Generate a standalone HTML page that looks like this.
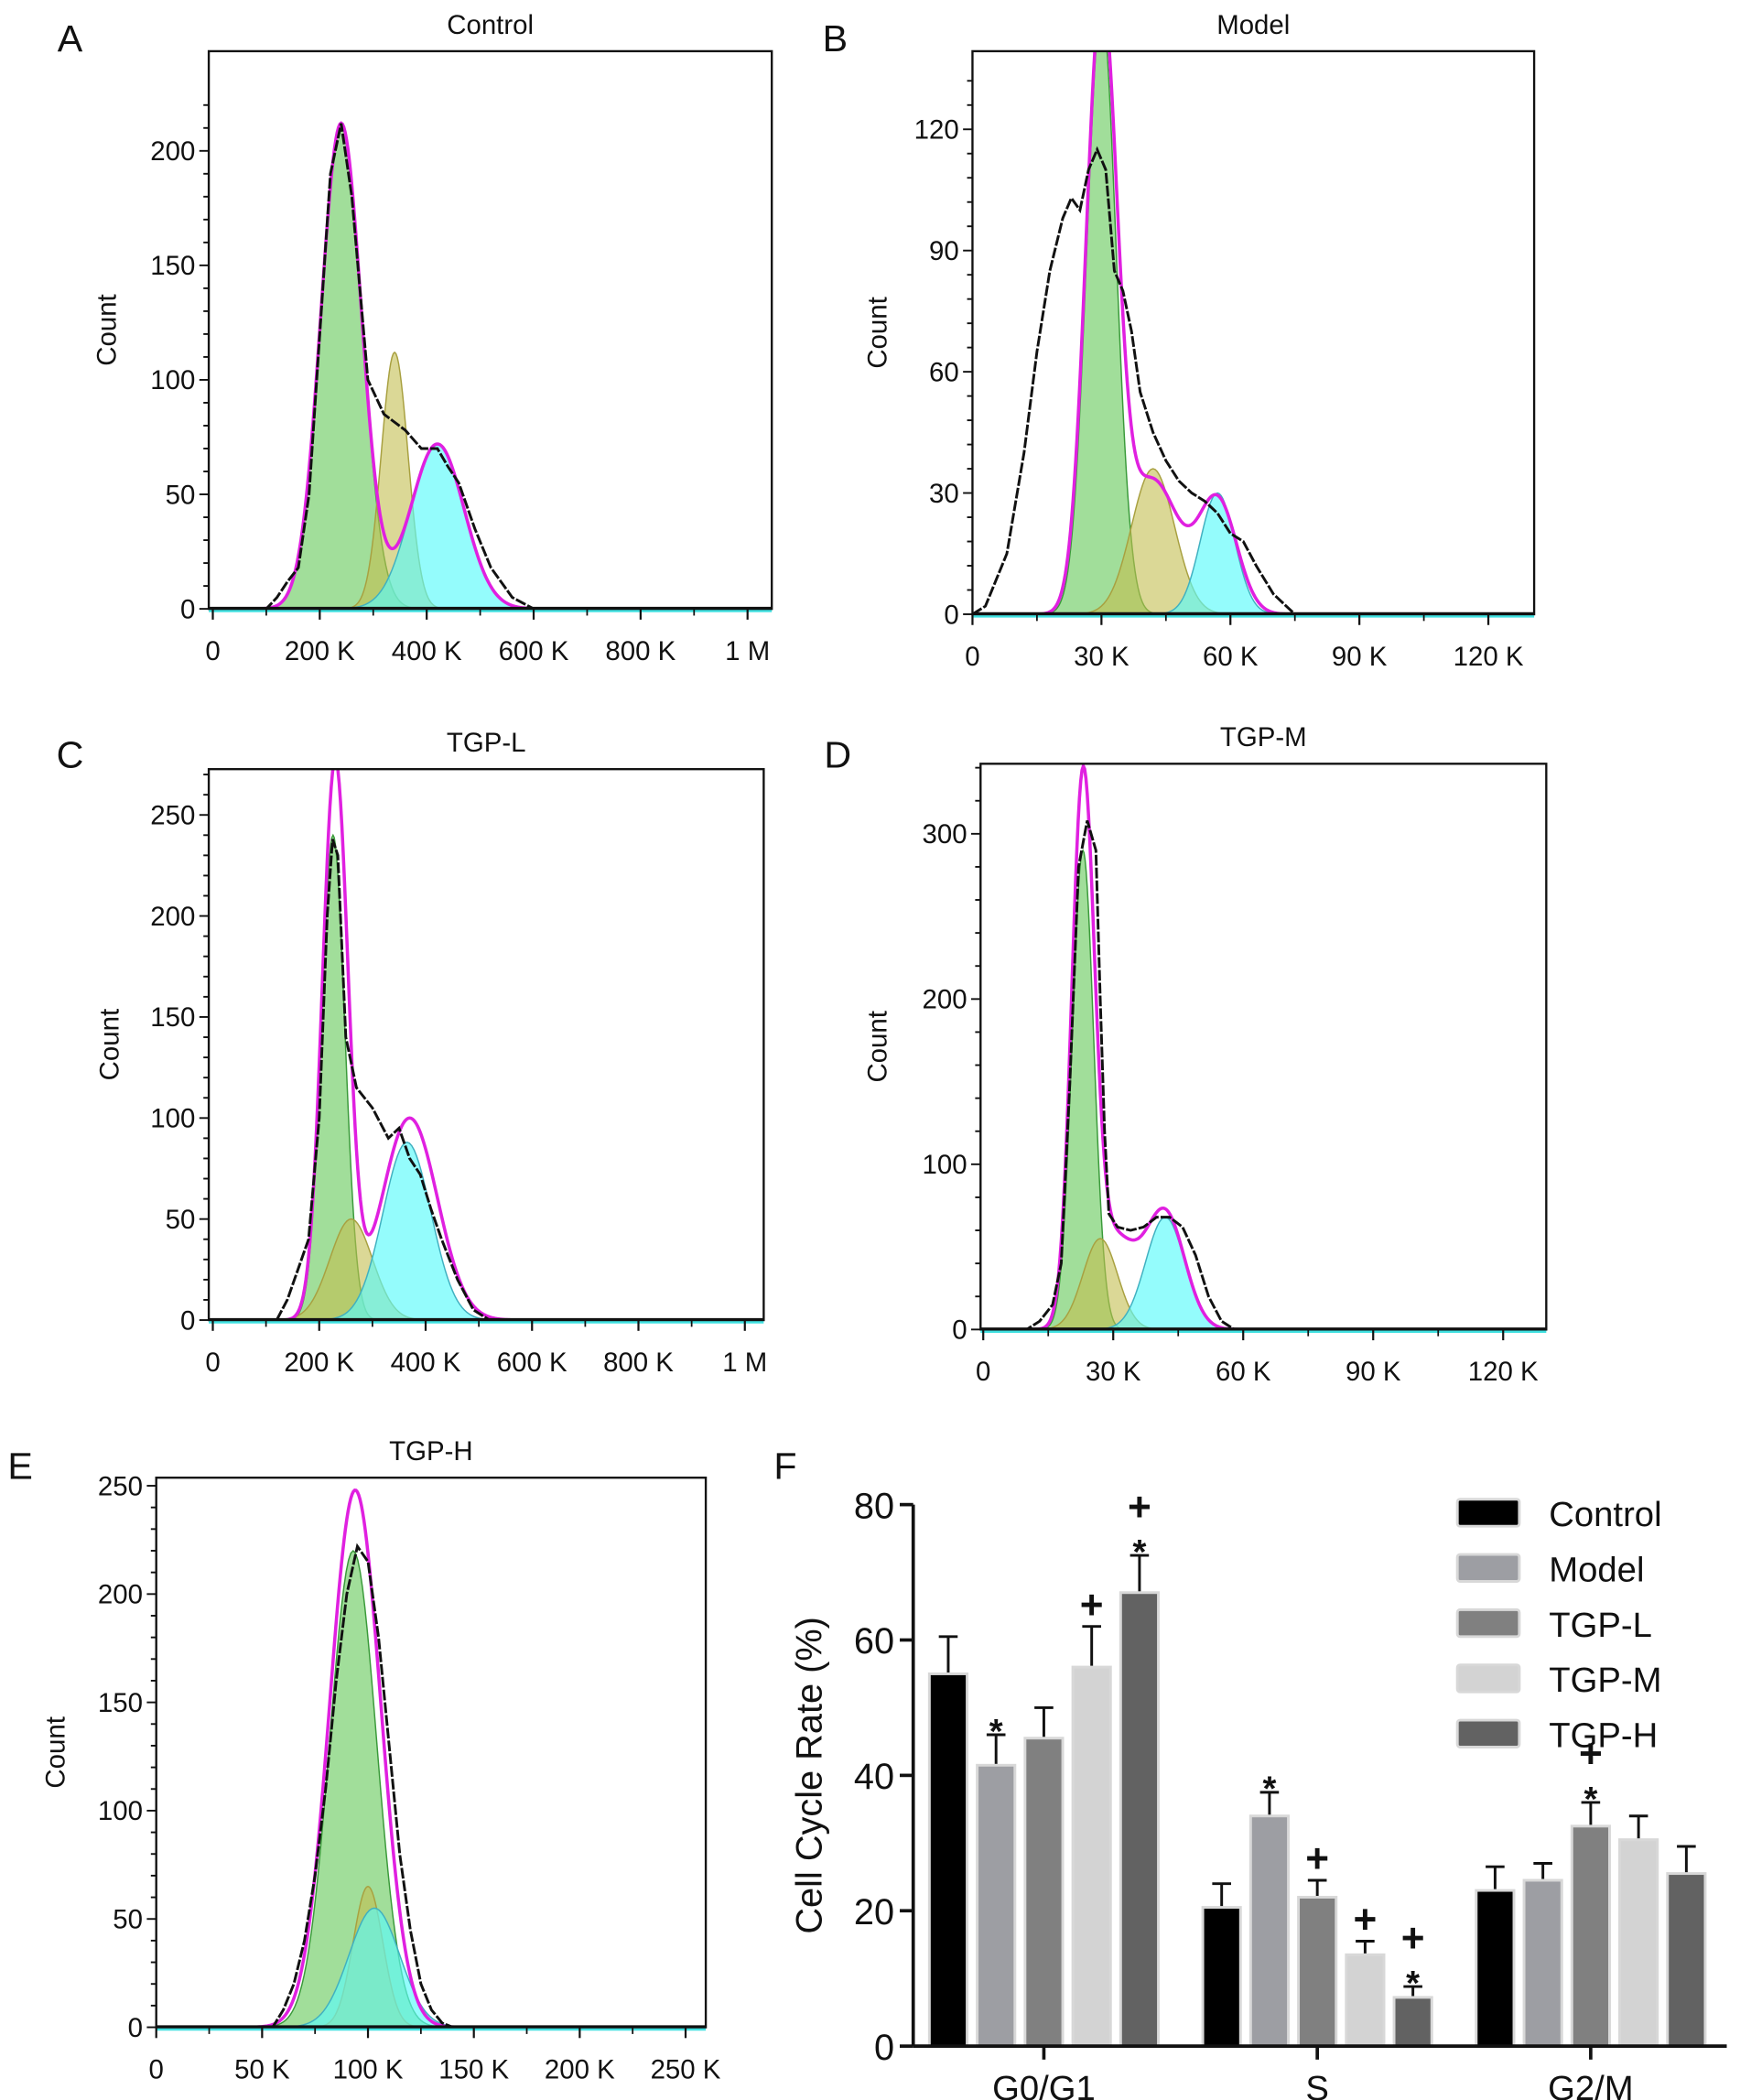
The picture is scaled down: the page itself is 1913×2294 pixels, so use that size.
<!DOCTYPE html>
<html><head><meta charset="utf-8"><style>
html,body{margin:0;padding:0;background:#fff;}
svg{display:block;font-family:"Liberation Sans",Arial,sans-serif;}
</style></head><body>
<svg id="fig" width="1913" height="2294" viewBox="0 0 1300 1559" preserveAspectRatio="none" xmlns="http://www.w3.org/2000/svg"></svg>
<script>
// ---- Histogram data (x in K units, count) ----
const histA_line = [[0,0],[100,0],[120,5],[140,12],[160,18],[180,50],[200,120],[220,190],[240,212],[260,180],[290,100],[320,85],[360,78],[390,70],[420,70],[440,62],[460,55],[490,35],[520,18],[560,5],[600,0],[1050,0]];
const histA_comp = [[240,212,38],[340,112,25],[420,72,50]];
const histA_env = [[240,212,38],[420,72,50]];
const histB_line = [[0,0],[3,2],[8,15],[12,40],[15,65],[18,85],[21,98],[23,103],[25,100],[27,110],[29,115],[31,110],[33,85],[35,80],[37,70],[39,55],[42,45],[45,38],[48,33],[51,30],[54,28],[57,25],[60,20],[63,18],[66,12],[70,5],[75,0],[135,0]];
const histB_comp = [[30,150,3.4],[42,36,5],[57,30,4]];
const histB_env = [[30,150,3.6],[42,33,6],[57,28,4.5]];
const histC_line = [[0,0],[120,0],[140,10],[160,25],[180,40],[200,100],[215,200],[225,238],[235,230],[250,140],[270,115],[300,105],[330,90],[350,95],[370,80],[390,72],[410,55],[430,40],[460,20],[490,5],[520,0],[1050,0]];
const histC_comp = [[226,240,22],[260,50,40],[365,88,45]];
const histC_env = [[230,275,24],[370,100,52]];
const histD_line = [[0,0],[10,0],[13,5],[16,15],[18,40],[20,150],[22,280],[24,308],[26,290],[27,200],[28,120],[29,70],[31,62],[34,60],[37,62],[40,68],[43,68],[46,62],[49,45],[52,20],[55,5],[58,0],[135,0]];
const histD_comp = [[23,290,2.5],[27,55,4],[42,68,4.5]];
const histD_env = [[23,320,2.6],[30,55,5],[42,70,4.5]];
const histE_line = [[0,0],[55,0],[60,8],[65,20],[70,40],[75,70],[80,110],[85,160],[90,200],[95,222],[100,215],[105,180],[110,130],[115,80],[120,45],[125,20],[130,8],[135,2],[140,0],[260,0]];
const histE_comp = [[93,220,11],[100,65,7],[103,55,12]];
const histE_env = [[94,248,12]];
// ---- Bar chart data ----
const categories = ["G0/G1","S","G2/M"];
const seriesNames = ["Control","Model","TGP-L","TGP-M","TGP-H"];
const seriesColors = ["#000000","#9d9ea3","#808080","#d3d3d3","#626262"];
const barValues = [[55,41.5,45.5,56,67],[20.5,34,22,13.5,7.2],[23,24.5,32.5,30.5,25.5]];
const barErrors = [[5.5,4.5,4.5,6,5.5],[3.5,3.5,2.5,2,1.6],[3.5,2.5,3.5,3.5,4]];
const barMarks = [["","*","","+","+*"],["","*","+","+","+*"],["","","+*","",""]];
const yTicksF = [0,20,40,60,80];

const NS="http://www.w3.org/2000/svg";
const svg=document.getElementById('fig');
function mk(tag,attrs,parent){const e=document.createElementNS(NS,tag);for(const k in attrs)e.setAttribute(k,attrs[k]);(parent||svg).appendChild(e);return e;}
function txt(s,x,y,size,anchor,parent,extra){const t=mk('text',Object.assign({x:x,y:y,'font-size':size,'text-anchor':anchor||'middle',fill:'#111'},extra||{}),parent);t.textContent=s;return t;}

function gauss(c,x){return c[1]*Math.exp(-0.5*Math.pow((x-c[0])/c[2],2));}

function histPanel(cfg){
  const g=mk('g',{});
  
  
  const X=v=>cfg.x0+(v-cfg.xmin)/(cfg.xmax-cfg.xmin)*(cfg.x1-cfg.x0);
  const Y=v=>cfg.y0-(v)/(cfg.ymax)*(cfg.y0-cfg.y1);
  const cp=mk('clipPath',{id:'clip'+cfg.letter},g);
  mk('rect',{x:cfg.bx0,y:cfg.by0,width:cfg.bx1-cfg.bx0,height:cfg.y0-cfg.by0+2},cp);
  const inner=mk('g',{'clip-path':'url(#clip'+cfg.letter+')'},g);
  const fills=['rgba(110,205,100,0.65)','rgba(195,190,80,0.6)','rgba(90,250,250,0.65)'];
  const strokes=['#3a9a3a','#a8a040','#40b0c0'];
  const names=['g1-peak','s-phase','g2-peak'];
  const xs=[];const N=400;
  for(let i=0;i<=N;i++)xs.push(cfg.xmin+(cfg.xmax-cfg.xmin)*i/N);
  cfg.comp.forEach((c,i)=>{
    let d='M'+X(c[0]-4*c[2])+','+Y(0);
    for(let k=0;k<=80;k++){const x=c[0]-4*c[2]+8*c[2]*k/80;d+=' L'+X(x).toFixed(2)+','+Y(gauss(c,x)).toFixed(2);}
    d+=' L'+X(c[0]+4*c[2])+','+Y(0)+'Z';
    const p=mk('path',{d:d,fill:fills[i],stroke:strokes[i],'stroke-width':1},inner);
    
    
  });
  let d='';
  xs.forEach((x,k)=>{const v=cfg.env.reduce((s,c)=>s+gauss(c,x),0);d+=(k?' L':'M')+X(x).toFixed(2)+','+Y(v).toFixed(2);});
  const env=mk('path',{d:d,fill:'none',stroke:'#e020e0','stroke-width':2.4},inner);
  
  
  let d2='';
  cfg.line.forEach((p,k)=>{d2+=(k?' L':'M')+X(p[0]).toFixed(2)+','+Y(p[1]).toFixed(2);});
  const ln=mk('path',{d:d2,fill:'none',stroke:'#111','stroke-width':2,'stroke-dasharray':'8,1.5'},inner);
  
  
  mk('line',{x1:cfg.bx0,x2:cfg.bx1,y1:cfg.y0+1.5,y2:cfg.y0+1.5,stroke:'#40e0e0','stroke-width':2},g);
  mk('line',{x1:cfg.bx0,x2:cfg.bx1,y1:cfg.y0-0.5,y2:cfg.y0-0.5,stroke:'#111','stroke-width':2},g);
  const box=mk('rect',{x:cfg.bx0,y:cfg.by0,width:cfg.bx1-cfg.bx0,height:cfg.y0-cfg.by0,fill:'none',stroke:'#111','stroke-width':1.6},g);
  
  
  const ya=mk('g',{},g);
  
  
  const minor=cfg.ystep/5;
  for(let v=0;v<=cfg.ymax+minor*2&&cfg.y0-(v/cfg.ymax)*(cfg.y0-cfg.y1)>cfg.by0;v+=minor){const yy=Y(v);const major=Math.abs(v/cfg.ystep-Math.round(v/cfg.ystep))<1e-6;
    mk('line',{x1:cfg.bx0-(major?7:4),x2:cfg.bx0,y1:yy,y2:yy,stroke:'#111','stroke-width':1.3},ya);
    if(major)txt(String(Math.round(v)),cfg.bx0-10,yy+7,20,'end',ya);}
  const xa=mk('g',{},g);
  
  
  cfg.xticks.forEach((v,i)=>{const xx=X(v);mk('line',{x1:xx,x2:xx,y1:cfg.y0,y2:cfg.y0+8,stroke:'#111','stroke-width':1.5},xa);
    txt(cfg.xlabels[i],xx,cfg.y0+38,20,'middle',xa);
    const h=cfg.xticks[1]/2; if(X(v+h)<cfg.bx1) mk('line',{x1:X(v+h),x2:X(v+h),y1:cfg.y0,y2:cfg.y0+5,stroke:'#111','stroke-width':1.2},xa);});
  const t=txt(cfg.title,(cfg.bx0+cfg.bx1)/2,cfg.by0-13,20,'middle',g);
  
  
  const yl=txt('Count',0,0,20,'middle',g,{transform:'translate('+cfg.cx+','+((cfg.by0+cfg.y0)/2)+') rotate(-90)'});
  
  
  const L=txt(cfg.letter,cfg.lx,cfg.ly,28,'middle',g);
  
  
}

const kLab=a=>a.map(v=>v===0?'0':(v>=1000?'1 M':v+' K'));
histPanel({name:'panel-a-control',letter:'A',title:'Control',line:histA_line,comp:histA_comp,env:histA_env,bx0:155,bx1:573,by0:38,y0:452,y1:112,ymax:200,ystep:50,x0:158,x1:555,xmin:0,xmax:1000,xticks:[0,200,400,600,800,1000],xlabels:kLab([0,200,400,600,800,1000]),cx:86,lx:52,ly:38});
histPanel({name:'panel-b-model',letter:'B',title:'Model',line:histB_line,comp:histB_comp,env:histB_env,bx0:722,bx1:1139,by0:38,y0:456,y1:96,ymax:120,ystep:30,x0:722,x1:1105,xmin:0,xmax:120,xticks:[0,30,60,90,120],xlabels:kLab([0,30,60,90,120]),cx:658,lx:620,ly:38});
histPanel({name:'panel-c-tgp-l',letter:'C',title:'TGP-L',line:histC_line,comp:histC_comp,env:histC_env,bx0:155,bx1:567,by0:571,y0:980,y1:605,ymax:250,ystep:50,x0:158,x1:553,xmin:0,xmax:1000,xticks:[0,200,400,600,800,1000],xlabels:kLab([0,200,400,600,800,1000]),cx:88,lx:52,ly:570});
histPanel({name:'panel-d-tgp-m',letter:'D',title:'TGP-M',line:histD_line,comp:histD_comp,env:histD_env,bx0:728,bx1:1148,by0:567,y0:987,y1:619,ymax:300,ystep:100,x0:730,x1:1116,xmin:0,xmax:120,xticks:[0,30,60,90,120],xlabels:kLab([0,30,60,90,120]),cx:658,lx:622,ly:570});
histPanel({name:'panel-e-tgp-h',letter:'E',title:'TGP-H',line:histE_line,comp:histE_comp,env:histE_env,bx0:116,bx1:524,by0:1097,y0:1505,y1:1103,ymax:250,ystep:50,x0:116,x1:509,xmin:0,xmax:250,xticks:[0,50,100,150,200,250],xlabels:kLab([0,50,100,150,200,250]),cx:48,lx:15,ly:1098});

// ---- Panel F bar chart ----
const F=mk('g',{});


const fx0=678,fy0=1519,fyTop=1117,fmax=80;
const FY=v=>fy0-v/fmax*(fy0-fyTop);
const groupCenter=i=>775+i*203;
const barW=28,barGap=35.5;
categories.forEach((cat,gi)=>{
  seriesNames.forEach((s,si)=>{
    const cx=groupCenter(gi)+(si-2)*barGap;
    const v=barValues[gi][si],e=barErrors[gi][si];
    mk('line',{x1:cx,x2:cx,y1:FY(v),y2:FY(v+e),stroke:'#111','stroke-width':2},F);
    mk('line',{x1:cx-7,x2:cx+7,y1:FY(v+e),y2:FY(v+e),stroke:'#111','stroke-width':2},F);
    const r=mk('rect',{x:cx-barW/2,y:FY(v),width:barW,height:fy0-FY(v),fill:seriesColors[si],stroke:'#d8d8d8','stroke-width':2},F);
    
    
    const m=barMarks[gi][si];
    let yy=FY(v+e)-6;
    if(m.includes('*')){txt('*',cx,yy+12,26,'middle',F,{'font-weight':'bold'});yy-=20;}
    if(m.includes('+')){txt('+',cx,yy,30,'middle',F,{'font-weight':'bold'});}
  });
  mk('line',{x1:groupCenter(gi),x2:groupCenter(gi),y1:fy0,y2:fy0+10,stroke:'#111','stroke-width':2.5},F);
  const cl=txt(cat,groupCenter(gi),fy0+40,26,'middle',F);
  
  
});
mk('line',{x1:fx0,x2:fx0,y1:fyTop,y2:fy0,stroke:'#111','stroke-width':2.5},F);
mk('line',{x1:fx0,x2:1282,y1:fy0,y2:fy0,stroke:'#111','stroke-width':2.5},F);
yTicksF.forEach(v=>{mk('line',{x1:fx0-10,x2:fx0,y1:FY(v),y2:FY(v),stroke:'#111','stroke-width':2.5},F);txt(String(v),fx0-14,FY(v)+10,27,'end',F);});
const fyl=txt('Cell Cycle Rate (%)',0,0,27,'middle',F,{transform:'translate(610,1318) rotate(-90)'});


seriesNames.forEach((s,si)=>{
  const y=1123+si*41;
  const sw=mk('rect',{x:1082,y:y-10,width:46,height:20,fill:seriesColors[si],stroke:'#d8d8d8','stroke-width':2,rx:2},F);
  
  
  const lt=txt(s,1150,y+10,26,'start',F);
  
  
});
const FL=txt('F',583,1098,28,'middle',F);


</script>
</body></html>
